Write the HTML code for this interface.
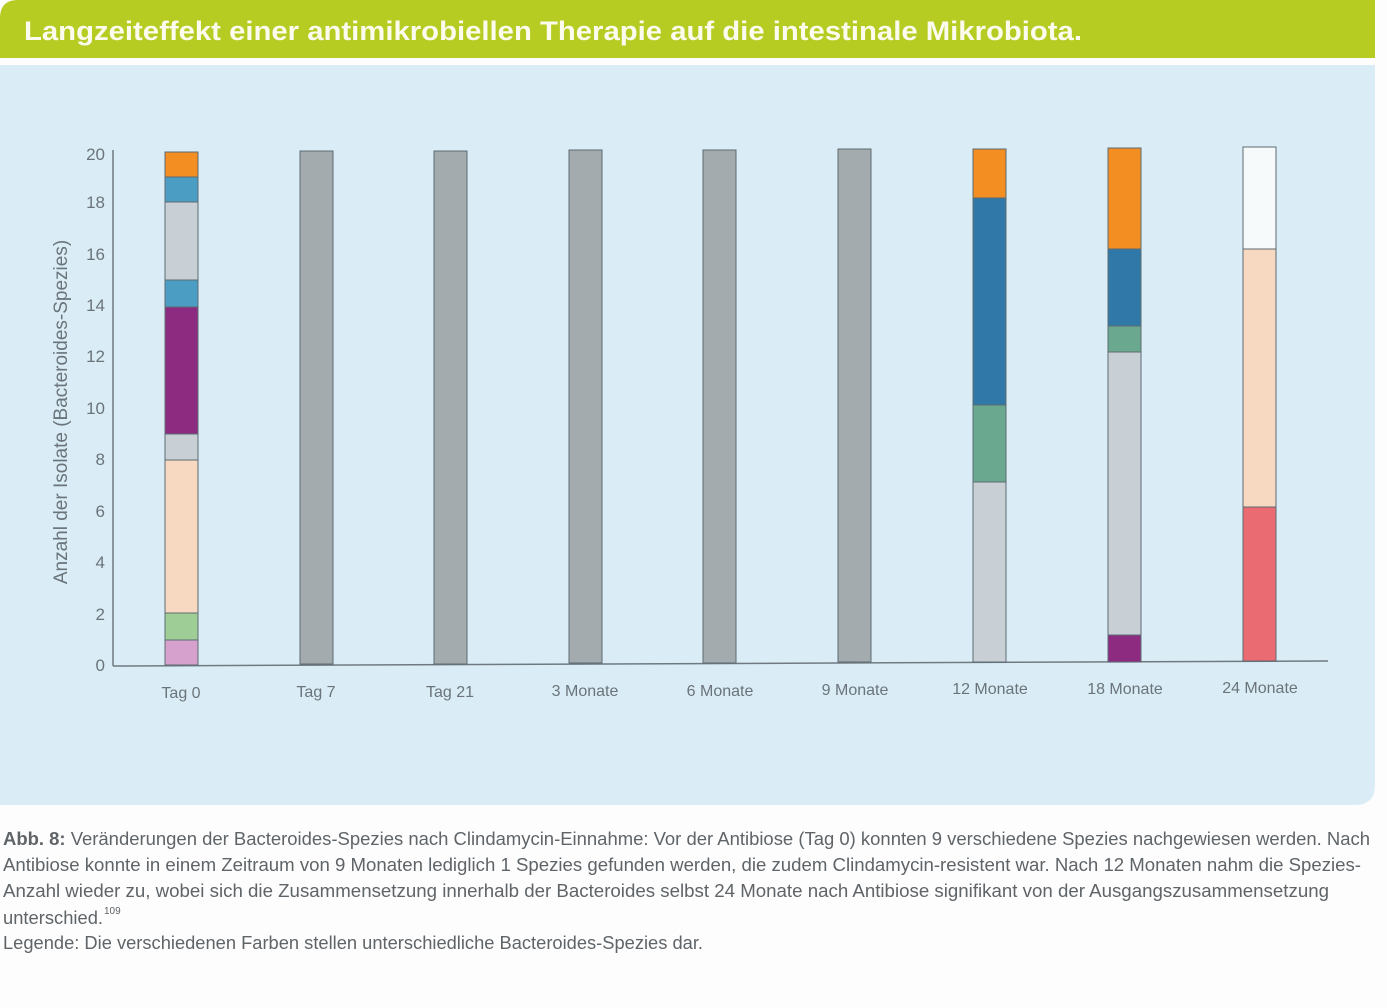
<!DOCTYPE html>
<html><head><meta charset="utf-8"><style>body{margin:0;background:#fff}svg{display:block}</style></head><body>
<svg width="1387" height="1008" xmlns="http://www.w3.org/2000/svg" font-family="Liberation Sans, DejaVu Sans, sans-serif">
<rect width="1387" height="1008" fill="#fdfdfd"/>
<!-- header -->
<path d="M0 58 L0 18 Q0 0 18 0 L1375 0 L1375 58 Z" fill="#b7cc22"/>
<text x="24" y="40" font-size="27" fill="#fbfbee" textLength="1058" lengthAdjust="spacingAndGlyphs" font-weight="bold">Langzeiteffekt einer antimikrobiellen Therapie auf die intestinale Mikrobiota.</text>
<!-- panel -->
<path d="M0 65 L1375 65 L1375 785 Q1375 805 1355 805 L0 805 Z" fill="#daedf6"/>
<!-- axes -->
<line x1="113" y1="150" x2="113" y2="666" stroke="#6f7a80" stroke-width="1.5"/>
<line x1="113" y1="666" x2="1328" y2="661" stroke="#6f7a80" stroke-width="1.5"/>
<g font-size="17" fill="#6a747a" text-anchor="end">
<text x="105" y="671">0</text><text x="105" y="620">2</text><text x="105" y="568">4</text><text x="105" y="517">6</text><text x="105" y="465">8</text><text x="105" y="414">10</text><text x="105" y="362">12</text><text x="105" y="311">14</text><text x="105" y="260">16</text><text x="105" y="208">18</text><text x="105" y="160">20</text>
</g>
<text transform="translate(67 412) rotate(-90)" font-size="19" fill="#6a747a" text-anchor="middle">Anzahl der Isolate (Bacteroides-Spezies)</text>
<g stroke="#5d6b72" stroke-width="1">
<!-- Tag 0 : y(v)=665-25.75v -->
<rect x="165" y="640" width="33" height="25" fill="#d6a1cc"/>
<rect x="165" y="613" width="33" height="27" fill="#9fcd96"/>
<rect x="165" y="460" width="33" height="153" fill="#f6d9c0"/>
<rect x="165" y="434" width="33" height="26" fill="#c8cfd5"/>
<rect x="165" y="307" width="33" height="127" fill="#8c2b80"/>
<rect x="165" y="280" width="33" height="27" fill="#4b9dc4"/>
<rect x="165" y="202" width="33" height="78" fill="#c8cfd5"/>
<rect x="165" y="177" width="33" height="25" fill="#4b9dc4"/>
<rect x="165" y="152" width="33" height="25" fill="#f28e22"/>
<!-- gray bars -->
<rect x="300" y="151" width="33" height="513" fill="#a4abae"/>
<rect x="434" y="151" width="33" height="513" fill="#a4abae"/>
<rect x="569" y="150" width="33" height="513" fill="#a4abae"/>
<rect x="703" y="150" width="33" height="513" fill="#a4abae"/>
<rect x="838" y="149" width="33" height="513" fill="#a4abae"/>
<!-- 12 Monate -->
<rect x="973" y="482" width="33" height="180" fill="#c8cfd5"/>
<rect x="973" y="405" width="33" height="77" fill="#6aa98f"/>
<rect x="973" y="198" width="33" height="207" fill="#2f78a7"/>
<rect x="973" y="149" width="33" height="49" fill="#f28e22"/>
<!-- 18 Monate -->
<rect x="1108" y="635" width="33" height="27" fill="#8c2b80"/>
<rect x="1108" y="352" width="33" height="283" fill="#c8cfd5"/>
<rect x="1108" y="326" width="33" height="26" fill="#6aa98f"/>
<rect x="1108" y="249" width="33" height="77" fill="#2f78a7"/>
<rect x="1108" y="148" width="33" height="101" fill="#f28e22"/>
<!-- 24 Monate -->
<rect x="1243" y="507" width="33" height="154" fill="#eb6b72"/>
<rect x="1243" y="249" width="33" height="258" fill="#f6d9c0"/>
<rect x="1243" y="147" width="33" height="102" fill="#f7fafb"/>
</g>
<g font-size="16" fill="#6a747a" text-anchor="middle">
<text x="181" y="698">Tag 0</text><text x="316" y="697">Tag 7</text><text x="450" y="697">Tag 21</text><text x="585" y="696">3 Monate</text><text x="720" y="696">6 Monate</text><text x="855" y="695">9 Monate</text><text x="990" y="694">12 Monate</text><text x="1125" y="694">18 Monate</text><text x="1260" y="693">24 Monate</text>
</g>
<!-- caption -->
<g font-size="18" fill="#5f6468">
<text x="3" y="845" textLength="1367" lengthAdjust="spacingAndGlyphs"><tspan font-weight="bold">Abb. 8:</tspan> Veränderungen der Bacteroides-Spezies nach Clindamycin-Einnahme: Vor der Antibiose (Tag 0) konnten 9 verschiedene Spezies nachgewiesen werden. Nach</text>
<text x="3" y="871" textLength="1358" lengthAdjust="spacingAndGlyphs">Antibiose konnte in einem Zeitraum von 9 Monaten lediglich 1 Spezies gefunden werden, die zudem Clindamycin-resistent war. Nach 12 Monaten nahm die Spezies-</text>
<text x="3" y="897" textLength="1326" lengthAdjust="spacingAndGlyphs">Anzahl wieder zu, wobei sich die Zusammensetzung innerhalb der Bacteroides selbst 24 Monate nach Antibiose signifikant von der Ausgangszusammensetzung</text>
<text x="3" y="924" textLength="100" lengthAdjust="spacingAndGlyphs">unterschied.</text>
<text x="104" y="914" font-size="10">109</text>
<text x="3" y="949" textLength="700" lengthAdjust="spacingAndGlyphs">Legende: Die verschiedenen Farben stellen unterschiedliche Bacteroides-Spezies dar.</text>
</g>
</svg>
</body></html>
